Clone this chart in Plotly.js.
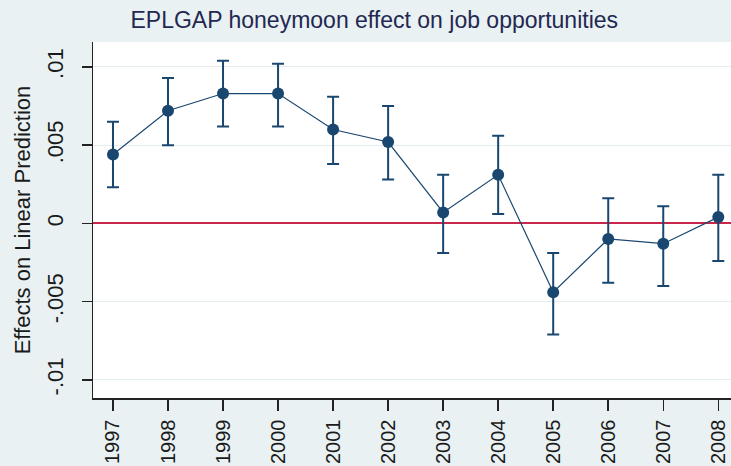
<!DOCTYPE html>
<html>
<head>
<meta charset="utf-8">
<script src="https://cdn.plot.ly/plotly-3.0.1.min.js"></script>
<style>html,body{margin:0;padding:0;background:#e9f1f3;}</style>
</head>
<body>
<div id="chart" style="width:731px;height:466px;"></div>
<script>
var years = [1997, 1998, 1999, 2000, 2001, 2002, 2003, 2004, 2005, 2006, 2007, 2008];
var estimate = [0.0044, 0.0072, 0.0083, 0.0083, 0.0060, 0.0052, 0.0007, 0.0031, -0.0044, -0.0010, -0.0013, 0.0004];
var upperCI = [0.0065, 0.0093, 0.0104, 0.0102, 0.0081, 0.0075, 0.0031, 0.0056, -0.0019, 0.0016, 0.0011, 0.0031];
var lowerCI = [0.0023, 0.0050, 0.0062, 0.0062, 0.0038, 0.0028, -0.0019, 0.0006, -0.0071, -0.0038, -0.0040, -0.0024];
var yTickVals = [-0.01, -0.005, 0, 0.005, 0.01];
var yTickText = ["-.01", "-.005", "0", ".005", ".01"];
var xTickText = ["1997","1998","1999","2000","2001","2002","2003","2004","2005","2006","2007","2008"];

var navy = "#1a476f";
var font = "Liberation Sans, Arial, sans-serif";

var errPlus = upperCI.map(function(u, i){ return u - estimate[i]; });
var errMinus = lowerCI.map(function(l, i){ return estimate[i] - l; });

var trace = {
  x: years,
  y: estimate,
  type: "scatter",
  mode: "lines+markers",
  line: {color: navy, width: 1.2},
  marker: {color: navy, size: 12, symbol: "circle"},
  error_y: {type: "data", symmetric: false, array: errPlus, arrayminus: errMinus,
            color: navy, thickness: 2, width: 6},
  showlegend: false,
  hoverinfo: "x+y"
};

var layout = {
  width: 731, height: 466,
  paper_bgcolor: "#e9f1f3",
  plot_bgcolor: "#ffffff",
  margin: {l: 93, r: 0, t: 42, b: 68, pad: 0},
  title: {text: "EPLGAP honeymoon effect on job opportunities",
          font: {family: font, size: 23, color: "#232850"},
          xref: "container", x: 0.512, xanchor: "center",
          yref: "container", y: 0.958, yanchor: "middle"},
  xaxis: {
    range: [1996.637, 2008.231],
    tickmode: "array", tickvals: years, ticktext: xTickText,
    tickangle: -90,
    ticks: "outside", ticklen: 11, tickwidth: 1.5, tickcolor: "#222",
    showline: true, linecolor: "#222", linewidth: 1.5,
    showgrid: false, zeroline: false,
    tickfont: {family: font, size: 20, color: "#1a1a1a"},
    ticklabelstandoff: 1
  },
  yaxis: {
    range: [-0.011167, 0.011595],
    tickmode: "array", tickvals: yTickVals, ticktext: yTickText,
    tickangle: -90,
    ticks: "outside", ticklen: 10, tickwidth: 1.5, tickcolor: "#222",
    showline: true, linecolor: "#222", linewidth: 1.5,
    showgrid: true, gridcolor: "#e3ecef", gridwidth: 1,
    zeroline: true, zerolinecolor: "#c8264a", zerolinewidth: 2,
    tickfont: {family: font, size: 22, color: "#1a1a1a"},
    ticklabelstandoff: 10,
    title: {text: "Effects on Linear Prediction", standoff: 6,
            font: {family: font, size: 22, color: "#1a1a1a"}}
  }
};

Plotly.newPlot("chart", [trace], layout, {displayModeBar: false, staticPlot: true});
</script>
</body>
</html>
